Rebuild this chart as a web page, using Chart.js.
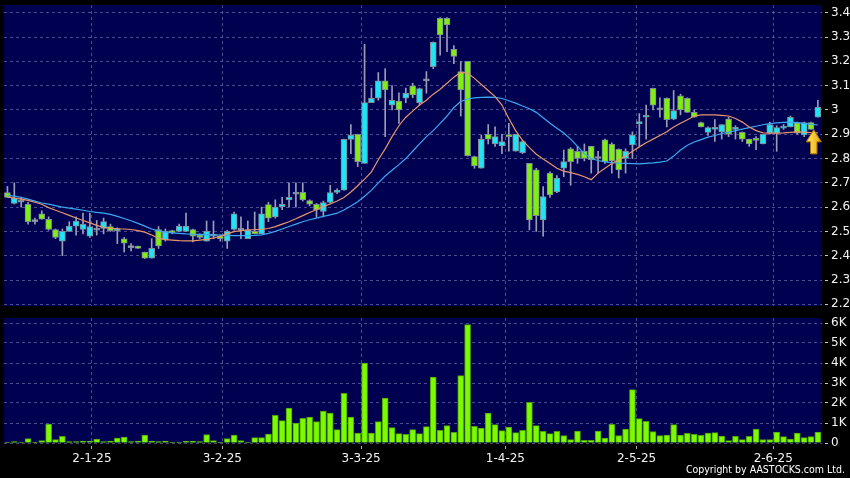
<!DOCTYPE html>
<html>
<head>
<meta charset="utf-8">
<script src="https://cdn.jsdelivr.net/npm/chart.js@4.4.1/dist/chart.umd.min.js"></script>
<style>
  body { margin:0; background:#000; width:850px; height:478px; overflow:hidden; position:relative; }
  canvas { position:absolute; left:0; }
  #Price { top:0; }
  #Volume { top:314px; }
  #copy { position:absolute; right:5px; top:463px; color:#fff; font-size:10.5px; font-family:"DejaVu Sans Condensed","DejaVu Sans",sans-serif; white-space:nowrap; }
</style>
</head>
<body>
<canvas id="Price" width="850" height="314"></canvas>
<canvas id="Volume" width="850" height="164"></canvas>
<div id="copy">Copyright by AASTOCKS.com Ltd.</div>
<script>
/* Data (one entry per trading day, index 0..118) */
const dateLabels = ['2-1-25', '3-2-25', '3-3-25', '1-4-25', '2-5-25', '2-6-25'];
const dateTicks = [12.3, 31.3, 51.5, 72.5, 91.6, 111.5]; // position on the day index axis
const priceTicks = [2.2, 2.3, 2.4, 2.5, 2.6, 2.7, 2.8, 2.9, 3, 3.1, 3.2, 3.3, 3.4];
const volTicks = [0, 1, 2, 3, 4, 5, 6];
const volTickLabels = ['0', '1K', '2K', '3K', '4K', '5K', '6K'];

const opens = [
  2.66,2.615,2.62,2.612,2.54,2.572,2.55,2.508,2.46,2.50,
  2.522,2.508,2.48,2.505,2.512,2.52,2.503,2.47,2.433,2.44,
  2.415,2.39,2.508,2.465,2.50,2.50,2.50,2.508,2.485,2.46,
  2.48,2.48,2.46,2.508,2.505,2.47,2.50,2.49,2.61,2.56,
  2.602,2.63,2.653,2.661,2.627,2.612,2.582,2.619,2.661,2.67,
  2.879,2.90,2.78,3.03,3.048,3.12,3.02,3.037,3.048,3.099,
  3.03,3.12,3.178,3.377,3.377,3.25,3.158,3.2,2.808,2.76,
  2.9,2.86,2.852,2.895,2.83,2.824,2.78,2.753,2.547,2.74,
  2.663,2.76,2.84,2.83,2.83,2.85,2.80,2.877,2.86,2.838,
  2.80,2.856,2.942,2.97,3.089,3.0,3.048,2.962,3.058,3.048,
  2.99,2.948,2.908,2.92,2.91,2.962,2.92,2.908,2.88,2.88,
  2.86,2.904,2.904,2.925,2.93,2.948,2.897,2.948,2.97
];
const highs = [
  2.685,2.70,2.64,2.62,2.555,2.585,2.56,2.51,2.51,2.54,
  2.56,2.575,2.575,2.545,2.555,2.53,2.515,2.475,2.45,2.44,
  2.415,2.47,2.52,2.51,2.505,2.53,2.575,2.51,2.49,2.543,
  2.543,2.485,2.505,2.58,2.56,2.543,2.58,2.60,2.62,2.63,
  2.64,2.70,2.70,2.70,2.63,2.615,2.625,2.69,2.675,2.88,
  2.94,2.90,3.27,3.09,3.154,3.17,3.10,3.07,3.09,3.11,
  3.09,3.158,3.28,3.38,3.38,3.265,3.2,3.2,2.81,2.897,
  2.94,2.93,2.90,2.945,2.90,2.875,2.78,2.76,2.685,2.745,
  2.73,2.835,2.845,2.85,2.86,2.85,2.83,2.88,2.865,2.84,
  2.84,2.91,2.985,3.02,3.09,3.05,3.05,3.08,3.065,3.05,
  3.0,2.95,2.93,2.96,2.94,2.97,2.935,2.91,2.88,2.89,
  2.90,2.95,2.935,2.94,2.975,2.95,2.95,2.95,3.04
];
const lows = [
  2.64,2.613,2.60,2.53,2.53,2.55,2.505,2.47,2.40,2.50,
  2.485,2.49,2.475,2.485,2.49,2.50,2.45,2.415,2.42,2.43,
  2.388,2.39,2.43,2.46,2.49,2.50,2.50,2.457,2.47,2.46,
  2.47,2.46,2.43,2.505,2.47,2.47,2.49,2.49,2.54,2.555,
  2.59,2.60,2.60,2.625,2.605,2.558,2.56,2.615,2.655,2.67,
  2.82,2.767,2.78,3.03,3.04,2.89,3.0,2.945,3.03,3.05,
  3.02,3.069,3.17,3.225,3.24,3.19,2.975,2.81,2.76,2.76,
  2.86,2.85,2.82,2.83,2.83,2.82,2.506,2.50,2.48,2.64,
  2.66,2.725,2.69,2.78,2.79,2.74,2.74,2.78,2.74,2.72,
  2.74,2.80,2.85,2.88,3.0,2.97,2.93,2.96,2.98,2.99,
  2.97,2.93,2.895,2.87,2.88,2.89,2.88,2.87,2.85,2.836,
  2.86,2.90,2.83,2.92,2.93,2.90,2.89,2.92,2.97
];
const closes = [
  2.64,2.637,2.62,2.54,2.54,2.55,2.508,2.475,2.50,2.522,
  2.543,2.529,2.52,2.505,2.54,2.503,2.51,2.452,2.433,2.43,
  2.39,2.43,2.44,2.50,2.495,2.522,2.522,2.48,2.475,2.50,
  2.48,2.47,2.50,2.572,2.505,2.505,2.49,2.572,2.555,2.60,
  2.612,2.64,2.653,2.63,2.612,2.59,2.619,2.66,2.67,2.879,
  2.897,2.787,3.03,3.048,3.12,3.082,3.04,3.0,3.068,3.062,
  3.088,3.12,3.278,3.309,3.35,3.22,3.082,2.812,2.77,2.879,
  2.88,2.89,2.87,2.89,2.90,2.87,2.547,2.565,2.643,2.65,
  2.72,2.787,2.787,2.80,2.80,2.795,2.80,2.787,2.79,2.753,
  2.83,2.897,2.952,2.977,3.02,3.0,2.96,2.997,3.0,2.99,
  2.97,2.93,2.927,2.925,2.94,2.90,2.928,2.88,2.86,2.875,
  2.90,2.94,2.927,2.93,2.97,2.904,2.948,2.92,3.011
];
// short (orange) and long (blue) moving averages
const maShort = [
  2.642,2.637,2.633,2.628,2.62,2.612,2.598,2.587,2.577,2.566,
  2.555,2.545,2.535,2.525,2.517,2.513,2.511,2.51,2.508,2.503,
  2.497,2.485,2.472,2.466,2.464,2.462,2.461,2.461,2.464,2.467,
  2.473,2.48,2.49,2.499,2.503,2.506,2.507,2.509,2.512,2.52,
  2.53,2.54,2.552,2.565,2.578,2.59,2.603,2.613,2.625,2.64,
  2.662,2.688,2.715,2.745,2.795,2.84,2.89,2.935,2.97,2.995,
  3.02,3.04,3.065,3.085,3.11,3.135,3.155,3.152,3.13,3.105,
  3.08,3.055,3.02,2.965,2.915,2.875,2.845,2.818,2.798,2.78,
  2.76,2.748,2.742,2.735,2.725,2.713,2.74,2.76,2.78,2.795,
  2.81,2.83,2.848,2.865,2.88,2.895,2.91,2.93,2.945,2.96,
  2.975,2.98,2.98,2.98,2.978,2.975,2.965,2.95,2.93,2.915,
  2.906,2.905,2.905,2.906,2.908,2.91,2.909,2.907,2.906
];
const maLong = [
  2.648,2.645,2.64,2.633,2.625,2.617,2.612,2.606,2.6,2.596,
  2.592,2.587,2.582,2.578,2.575,2.57,2.562,2.553,2.544,2.533,
  2.522,2.51,2.502,2.497,2.494,2.492,2.49,2.489,2.488,2.487,
  2.486,2.485,2.484,2.483,2.483,2.483,2.484,2.486,2.492,2.5,
  2.51,2.52,2.53,2.54,2.548,2.555,2.562,2.568,2.575,2.588,
  2.605,2.622,2.645,2.67,2.7,2.728,2.752,2.775,2.8,2.83,
  2.86,2.89,2.915,2.945,2.975,3.01,3.035,3.045,3.05,3.052,
  3.053,3.052,3.047,3.038,3.028,3.016,3.005,2.99,2.968,2.945,
  2.925,2.905,2.88,2.85,2.82,2.8,2.792,2.786,2.783,2.781,
  2.78,2.779,2.778,2.78,2.782,2.785,2.79,2.81,2.835,2.855,
  2.868,2.878,2.888,2.895,2.903,2.909,2.915,2.921,2.927,2.933,
  2.939,2.944,2.947,2.949,2.95,2.948,2.945,2.941,2.938
];
// turnover in thousands
const volumes = [
  0.05,0.07,0.02,0.22,0.02,0.12,0.95,0.17,0.33,0.07,
  0.07,0.1,0.1,0.2,0.07,0.1,0.25,0.3,0.07,0.1,
  0.4,0.1,0.07,0.1,0.03,0.05,0.08,0.08,0.07,0.42,
  0.12,0.02,0.22,0.4,0.12,0.05,0.27,0.27,0.45,1.38,
  1.12,1.75,1.0,1.23,1.3,1.07,1.6,1.5,0.67,2.48,
  1.3,0.5,4.0,0.5,1.07,2.25,0.77,0.47,0.43,0.67,
  0.47,0.82,3.3,0.63,0.87,0.53,3.37,5.92,0.83,0.75,
  1.5,0.92,0.62,0.8,0.52,0.63,2.03,0.87,0.58,0.47,
  0.58,0.37,0.17,0.6,0.13,0.13,0.6,0.25,0.93,0.37,
  0.7,2.67,1.22,1.08,0.57,0.37,0.4,0.92,0.4,0.48,
  0.43,0.38,0.5,0.52,0.35,0.12,0.33,0.17,0.33,0.7,
  0.17,0.17,0.55,0.32,0.2,0.5,0.27,0.32,0.55
];
const arrowMark = {x: 117.4, y: 2.918}; // the yellow "latest" arrow

/* Colours */
const navy = '#000050';
const gridCol = 'rgba(125,125,185,0.6)';
const labelCol = '#f2f2f2';
const upCol = '#1ee4f4', downCol = '#80ee12', flatCol = '#a8a8bc';
const labelFont = {family: 'DejaVu Sans', size: 12};

const bodyColors = opens.map((o, i) => closes[i] > o ? upCol : (closes[i] < o ? downCol : flatCol));

/* Plugins */
const panelBg = {
  id: 'panelBg',
  beforeDraw(chart) {
    const a = chart.chartArea, c = chart.ctx;
    c.save();
    c.fillStyle = navy;
    c.fillRect(a.left, a.top, a.right - a.left, a.bottom - a.top);
    c.restore();
  }
};
const upArrow = {
  id: 'upArrow',
  afterDatasetsDraw(chart) {
    const c = chart.ctx;
    const x = chart.scales.x.getPixelForValue(arrowMark.x);
    const y = chart.scales.y.getPixelForValue(arrowMark.y);
    const g = c.createLinearGradient(x - 7, 0, x + 7, 0);
    g.addColorStop(0, '#ffe870');
    g.addColorStop(1, '#e8a800');
    c.save();
    c.beginPath();
    c.moveTo(x, y);
    c.lineTo(x + 7.5, y + 12);
    c.lineTo(x + 3.2, y + 12);
    c.lineTo(x + 3.2, y + 24);
    c.lineTo(x - 3.2, y + 24);
    c.lineTo(x - 3.2, y + 12);
    c.lineTo(x - 7.5, y + 12);
    c.closePath();
    c.fillStyle = g;
    c.fill();
    c.strokeStyle = '#b07800';
    c.lineWidth = 1;
    c.stroke();
    c.restore();
  }
};

/* Shared x axis */
function dayAxis(showLabels) {
  return {
    type: 'linear', min: -0.5, max: 118.6, offset: false,
    afterBuildTicks: s => { s.ticks = dateTicks.map(v => ({value: v})); },
    afterFit: s => { s.paddingLeft = 0; s.paddingRight = 0; if (showLabels) s.height = 35; },
    ticks: {display: showLabels, autoSkip: false, maxRotation: 0, color: labelCol, font: labelFont, padding: 3,
            callback: (v, i) => dateLabels[i]},
    grid: {offset: false, color: gridCol, drawTicks: showLabels, tickLength: 6, tickColor: '#b0b0b0', tickBorderDash: [0, 3, 3]},
    border: {display: false, dash: [3, 3]}
  };
}

/* Price panel */
new Chart(document.getElementById('Price'), {
  type: 'bar',
  data: {
    datasets: [
      {type: 'line', label: 'MA short', data: maShort.map((v, i) => ({x: i, y: v})),
       borderColor: '#e8956c', borderWidth: 1.2, pointRadius: 0, tension: 0, order: 1},
      {type: 'line', label: 'MA long', data: maLong.map((v, i) => ({x: i, y: v})),
       borderColor: '#3ca8f0', borderWidth: 1.2, pointRadius: 0, tension: 0, order: 1},
      {type: 'bar', label: 'body', data: opens.map((o, i) => ({x: i, y: [o, closes[i]]})),
       backgroundColor: bodyColors, borderColor: '#7d8c96', borderWidth: 1, borderSkipped: false,
       barThickness: 6, minBarLength: 2, grouped: false, order: 2},
      {type: 'bar', label: 'wick', data: lows.map((l, i) => ({x: i, y: [l, highs[i]]})),
       backgroundColor: '#9c9cb4', borderWidth: 0, barThickness: 1, grouped: false, order: 3}
    ]
  },
  options: {
    responsive: false, animation: false,
    layout: {padding: {left: 4, top: 5, bottom: 8, right: 0}},
    plugins: {legend: {display: false}, tooltip: {enabled: false}},
    scales: {
      x: dayAxis(false),
      y: {
        position: 'right', min: 2.193, max: 3.432,
        afterBuildTicks: s => { s.ticks = priceTicks.map(v => ({value: v})); },
        afterFit: s => { s.width = 28; s.paddingTop = 0; s.paddingBottom = 0; },
        ticks: {color: labelCol, font: labelFont, padding: 3, callback: v => String(v)},
        grid: {color: gridCol, tickColor: '#c8c8c8', tickLength: 6, tickBorderDash: [0, 3, 3]},
        border: {display: false, dash: [3, 3]}
      }
    }
  },
  plugins: [panelBg, upArrow]
});

/* Volume panel */
new Chart(document.getElementById('Volume'), {
  type: 'bar',
  data: {
    datasets: [{
      label: 'volume', data: volumes.map((v, i) => ({x: i, y: v})),
      backgroundColor: '#7cfa00', borderColor: '#4c9e00', borderWidth: 1,
      barThickness: 6, grouped: false
    }]
  },
  options: {
    responsive: false, animation: false,
    layout: {padding: {left: 4, top: 4, bottom: 0, right: 0}},
    plugins: {legend: {display: false}, tooltip: {enabled: false}},
    scales: {
      x: dayAxis(true),
      y: {
        position: 'right', min: 0, max: 6.25,
        afterBuildTicks: s => { s.ticks = volTicks.map(v => ({value: v})); },
        afterFit: s => { s.width = 28; s.paddingTop = 0; s.paddingBottom = 0; },
        ticks: {color: labelCol, font: labelFont, padding: 3, callback: (v, i) => volTickLabels[i]},
        grid: {color: gridCol, tickColor: '#c8c8c8', tickLength: 6, tickBorderDash: [0, 3, 3]},
        border: {display: false, dash: [3, 3]}
      }
    }
  },
  plugins: [panelBg]
});
</script>
</body>
</html>
